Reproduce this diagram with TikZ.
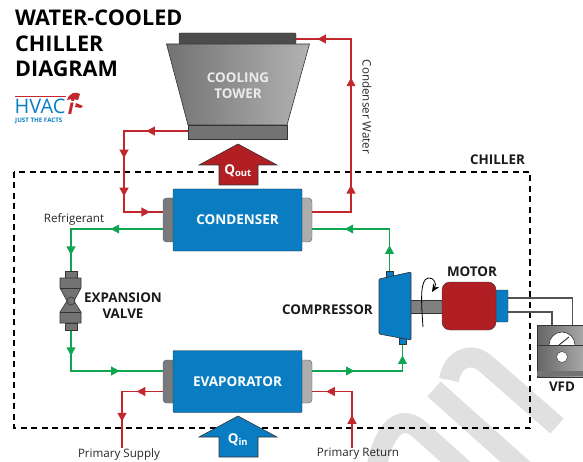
\documentclass[tikz,border=0pt]{standalone}
\usepackage{fontspec}
\setmainfont{Open Sans}
\usetikzlibrary{arrows.meta}
\definecolor{hxblue}{HTML}{0A7DC2}
\definecolor{motorred}{HTML}{B11F24}
\definecolor{waterred}{HTML}{C1272D}
\definecolor{refgreen}{HTML}{0FA552}
\definecolor{edgegray}{HTML}{333333}
\tikzset{
    hxbox/.style = {draw = edgegray, fill = hxblue, rounded corners = 1pt, minimum width = 129pt, minimum height = 62pt, text = white, font = \fontsize{13.5}{16}\selectfont\bfseries},
    capdark/.style = {draw = edgegray!80, fill = black!52, rounded corners = 3.5pt},
    caplight/.style = {draw = edgegray!80, fill = black!32, rounded corners = 3.5pt},
    waterline/.style = {color = waterred, line width = 1.5pt},
    refline/.style = {color = refgreen, line width = 1.5pt},
    wireline/.style = {draw = edgegray!85, line width = 1.1pt},
    flowtip/.style = {sloped, allow upside down},
    tip/.pic = {\fill (4.5,0) -- (-4,4.6) -- (-4,-4.6) -- cycle;},
    bigtext/.style = {font = \fontsize{13.4}{16}\selectfont\bfseries, align = center, inner sep = 0pt, text = black!90},
    smalltext/.style = {font = \fontsize{11.6}{13}\selectfont, text = black!85, inner sep = 0pt},
    qarrow/.style = {draw = edgegray, line width = 0.6pt, line join = miter}
}
\begin{document}
\begin{tikzpicture}[x = 1pt, y = -1pt]
    \useasboundingbox (0,0) rectangle (583,462);
    %watermark
    \begin{scope}
        \clip (0,0) rectangle (583,462);
        \draw [black!12, line width = 20pt] (434,389) -- (530,475);
        \draw [black!12, line width = 20pt] (449,380) .. controls (452,360) and (470,350) .. (486,364) -- (557,426);
        \draw [black!12, line width = 20pt] (376,470) .. controls (383,430) and (400,412) .. (420,430) -- (470,475);
    \end{scope}

    %chiller boundary
    \draw [line width = 1.3pt, dash pattern = on 6pt off 4.5pt] (14,172) rectangle (530,428);
    \node [bigtext] (chillerlabel) at (497.5,160) {CHILLER};

    %title and logo
    \node [font = \fontsize{21.6}{25.3}\selectfont\bfseries, align = left, anchor = north west, inner sep = 0pt] (title) at (15,10) {WATER-COOLED\\CHILLER\\DIAGRAM};
    \draw [waterred, line width = 0.7pt] (15,96) -- (66,96);
    \node [font = \fontsize{20}{20}\selectfont, text = hxblue, anchor = base west, inner sep = 0pt, text height = 14pt, text depth = 0pt] (logotext) at (14.5,114) {HVAC};
    \node [font = \fontsize{6.2}{7}\selectfont\bfseries, text = hxblue, anchor = west, inner sep = 0pt, text height = 4.5pt, text depth = 0pt] (logotag) at (15,120) {JUST THE FACTS};
    \node [font = \fontsize{21}{21}\selectfont\bfseries\itshape, text = waterred, inner sep = 0pt] (logoi) at (71,107) {i};
    \fill [waterred] (67,100) .. controls (69,93) and (76,91) .. (80,94) -- (78,100) -- (72,99) -- cycle (76,103) -- (83,106) -- (81,108) -- (75,107) -- cycle;

    %shaft, motor, compressor
    \node [draw = edgegray, fill = gray, minimum width = 33pt, minimum height = 13pt, inner sep = 0pt] (shaft) at (427,306.5) {};
    \node [draw = edgegray, fill = hxblue, rounded corners = 1pt, minimum width = 12pt, minimum height = 32pt, inner sep = 0pt] (motorend) at (502,306) {};
    \node [draw = edgegray, fill = motorred, rounded corners = 8pt, minimum width = 54pt, minimum height = 48pt, inner sep = 0pt] (motor) at (469,306) {};
    \node [bigtext] (motorlabel) at (472,272) {MOTOR};
    \draw [-{Stealth[length = 8pt, width = 7pt]}, line width = 0.8pt] (423,327) .. controls (421,300) and (420,280) .. (428,278) .. controls (434,277) and (437,284) .. (432,292);
    \node [draw = edgegray, fill = hxblue, minimum width = 7pt, minimum height = 6pt, inner sep = 0pt] (compin) at (402.5,341.5) {};
    \node [draw = edgegray, fill = hxblue, minimum width = 7pt, minimum height = 6pt, inner sep = 0pt] (compout) at (389.5,274) {};
    \draw [edgegray, fill = hxblue, rounded corners = 1pt, line width = 0.6pt] (379,279) -- (411,272) -- (411,340) -- (379,334) -- cycle;
    \node [bigtext, anchor = east] (compressorlabel) at (373,310) {COMPRESSOR};

    %heat exchangers
    \node [capdark, minimum width = 20pt, minimum height = 44pt, inner sep = 0pt] (condleft) at (173,220) {};
    \node [caplight, minimum width = 20pt, minimum height = 44pt, inner sep = 0pt] (condright) at (302,220) {};
    \node [hxbox] (condenser) at (237.5,220) {CONDENSER};
    \node [capdark, minimum width = 20pt, minimum height = 43pt, inner sep = 0pt] (evapleft) at (173,381.5) {};
    \node [caplight, minimum width = 20pt, minimum height = 43pt, inner sep = 0pt] (evapright) at (302,381.5) {};
    \node [hxbox] (evaporator) at (237.5,381.5) {EVAPORATOR};

    %cooling tower
    \node [draw = edgegray, fill = black!70, rounded corners = 1pt, minimum width = 117pt, minimum height = 11pt, inner sep = 0pt] (towerfan) at (237.5,38.5) {};
    \draw [edgegray, left color = black!55, right color = black!30, line width = 0.6pt] (166.5,44) -- (309.5,44) -- (287,125) -- (188,125) -- cycle;
    \node [draw = edgegray, fill = black!55, minimum width = 99pt, minimum height = 14pt, inner sep = 0pt] (towerbase) at (237.5,132) {};
    \node [bigtext, text = black!8] (towerlabel) at (238,86) {COOLING\\TOWER};

    %condenser water
    \coordinate (towerout) at (188,131);
    \coordinate (towerin) at (296,39);
    \coordinate (condin) at (163,212);
    \coordinate (condout) at (312,212);
    \coordinate (leftriser) at (124,131);
    \coordinate (rightriser) at (351,39);
    \draw [waterline] (towerout) -- pic [flowtip, pos = .58] {tip} (leftriser) -- pic [flowtip, pos = .28] {tip} pic [flowtip, pos = .75] {tip} (leftriser |- condin) -- pic [flowtip, pos = .55] {tip} (condin);
    \draw [waterline] (condout) -- (condout -| rightriser) -- pic [flowtip, pos = .13] {tip} pic [flowtip, pos = .75] {tip} (rightriser) -- pic [flowtip, pos = .53] {tip} (towerin);
    \node [smalltext, rotate = -90] (waterlabel) at (367,107) {Condenser Water};

    %refrigerant
    \coordinate (condliq) at (163,229);
    \coordinate (condgas) at (312,229);
    \coordinate (evapliq) at (163,371);
    \coordinate (evapgas) at (312,371);
    \coordinate (valvetop) at (71,272);
    \coordinate (valvebottom) at (71,330);
    \draw [refline] (condliq) -- pic [flowtip, pos = .52] {tip} (condliq -| valvetop) -- pic [flowtip, pos = .5] {tip} (valvetop);
    \draw [refline] (valvebottom) -- pic [flowtip, pos = .52] {tip} (valvebottom |- evapliq) -- pic [flowtip, pos = .48] {tip} (evapliq);
    \draw [refline] (evapgas) -- pic [flowtip, pos = .42] {tip} (evapgas -| compin) -- pic [flowtip, pos = .42] {tip} (compin.south);
    \draw [refline] (compout.north) -- pic [flowtip, pos = .5] {tip} (compout |- condgas) -- pic [flowtip, pos = .52] {tip} (condgas);
    \node [smalltext] (reflabel) at (74,219) {Refrigerant};

    %expansion valve
    \begin{scope}[draw = edgegray, line width = 0.6pt]
        \node [draw, fill = black!55, minimum width = 12pt, minimum height = 7pt, inner sep = 0pt] (valvecaptop) at (71,275) {};
        \node [draw, fill = black!55, minimum width = 12pt, minimum height = 7pt, inner sep = 0pt] (valvecapbottom) at (71,327) {};
        \draw [fill = black!55] (60,278) -- (81,278) -- (81,288) -- (74,301) -- (81,312) -- (81,323) -- (60,323) -- (60,312) -- (67,301) -- (60,288) -- cycle;
        \draw (60,288) -- (81,288) (60,312) -- (81,312);
        \node [draw, circle, fill = black!55, minimum size = 8pt, inner sep = 0pt] (valvepin) at (71,301) {};
    \end{scope}
    \node [bigtext] (valvelabel) at (123,305.5) {EXPANSION\\VALVE};

    %primary water
    \coordinate (supplyend) at (122,448);
    \coordinate (returnend) at (352,448);
    \coordinate (evapout) at (163,391.5);
    \coordinate (evapin) at (312,391.5);
    \draw [waterline] (evapout) -- pic [flowtip, pos = .53] {tip} (evapout -| supplyend) -- pic [flowtip, pos = .45] {tip} (supplyend);
    \draw [waterline] (returnend) -- pic [flowtip, pos = .5] {tip} (returnend |- evapin) -- pic [flowtip, pos = .53] {tip} (evapin);
    \node [smalltext] (supplylabel) at (119,454) {Primary Supply};
    \node [smalltext] (returnlabel) at (358,454) {Primary Return};

    %heat arrows
    \draw [qarrow, fill = motorred] (238,144) -- (277,165) -- (258,165) -- (258,185) -- (219,185) -- (219,165) -- (199,165) -- cycle;
    \node [font = \fontsize{13.5}{14}\selectfont\bfseries, text = white, inner sep = 0pt] (qout) at (238,171) {Q\textsubscript{out}};
    \draw [qarrow, fill = hxblue] (238,416) -- (277,437) -- (258,437) -- (258,457) -- (219,457) -- (219,437) -- (199,437) -- cycle;
    \node [font = \fontsize{13.5}{14}\selectfont\bfseries, text = white, inner sep = 0pt] (qin) at (238,440) {Q\textsubscript{in}};

    %VFD
    \coordinate (wiretop) at (572.5,325);
    \coordinate (wirelow) at (552,325);
    \draw [wireline] (motorend.east |- 0,298) -- (wiretop |- 0,298) -- (wiretop);
    \draw [wireline] (motorend.east |- 0,312) -- (wirelow |- 0,312) -- (wirelow);
    \draw [edgegray, left color = black!60, right color = black!25, line width = 0.6pt] (537,325) rectangle (600,377);
    \draw [edgegray, fill = white, line width = 0.6pt] (549,345) arc (180:360:13);
    \draw [edgegray, line width = 1pt] (559,345) -- (569,337);
    \draw [edgegray, line width = 0.8pt] (537,345.5) -- (600,345.5);
    \fill [black!55] (537,371) rectangle (600,376);
    \node [draw = edgegray, circle, fill = white, minimum size = 11pt, inner sep = 0pt] (vfdknob) at (562,357) {};
    \node [bigtext] (vfdlabel) at (562,387) {VFD};
\end{tikzpicture}
\end{document}
